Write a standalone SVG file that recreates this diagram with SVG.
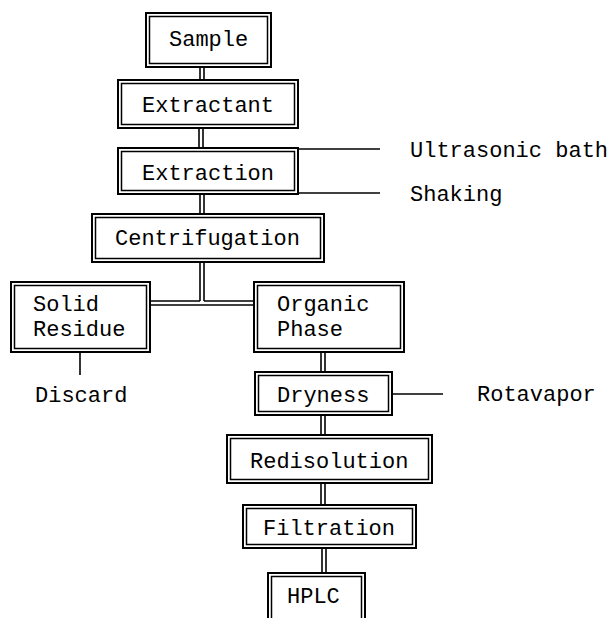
<svg xmlns="http://www.w3.org/2000/svg" width="613" height="618" viewBox="0 0 613 618">
<style>
.o{fill:#fff;stroke:#000;stroke-width:2}
.i{fill:none;stroke:#000;stroke-width:1.5}
.c line{stroke:#000;stroke-width:1.6}
text{font-family:"Liberation Mono","Courier New",monospace;font-size:22px;fill:#000}
</style>
<rect width="613" height="618" fill="#fff"/>
<g class="c" id="connectors">
<line x1="200" y1="67" x2="200" y2="80"/><line x1="204" y1="67" x2="204" y2="80"/>
<line x1="199" y1="128" x2="199" y2="148"/><line x1="203" y1="128" x2="203" y2="148"/>
<line x1="200" y1="194" x2="200" y2="214"/><line x1="204" y1="194" x2="204" y2="214"/>
<line x1="200" y1="262" x2="200" y2="301"/><line x1="204" y1="262" x2="204" y2="301"/>
<line x1="150" y1="301" x2="200" y2="301"/><line x1="204" y1="301" x2="254" y2="301"/>
<line x1="150" y1="305" x2="254" y2="305"/>
<line x1="321" y1="352" x2="321" y2="372"/><line x1="325" y1="352" x2="325" y2="372"/>
<line x1="321" y1="415" x2="321" y2="435"/><line x1="325" y1="415" x2="325" y2="435"/>
<line x1="321" y1="483" x2="321" y2="505"/><line x1="325" y1="483" x2="325" y2="505"/>
<line x1="322" y1="548" x2="322" y2="573"/><line x1="326" y1="548" x2="326" y2="573"/>
<line x1="298" y1="149" x2="380" y2="149"/>
<line x1="298" y1="193" x2="380" y2="193"/>
<line x1="392" y1="394" x2="443" y2="394"/>
<line x1="80" y1="352" x2="80" y2="375"/>
</g>
<g id="sample"><rect class="o" x="146" y="13" width="125" height="54"/><rect class="i" x="149.5" y="16.5" width="118" height="47"/><text x="169" y="46">Sample</text></g>
<g id="extractant"><rect class="o" x="118" y="80" width="180" height="48"/><rect class="i" x="121.5" y="83.5" width="173" height="41"/><text x="142" y="112">Extractant</text></g>
<g id="extraction"><rect class="o" x="118" y="148" width="180" height="46"/><rect class="i" x="121.5" y="151.5" width="173" height="39"/><text x="142" y="180">Extraction</text></g>
<g id="centrifugation"><rect class="o" x="92" y="214" width="232" height="48"/><rect class="i" x="95.5" y="217.5" width="225" height="41"/><text x="115" y="245">Centrifugation</text></g>
<g id="solid-residue"><rect class="o" x="11" y="282" width="139" height="70"/><rect class="i" x="14.5" y="285.5" width="132" height="63"/><text x="33" y="311">Solid</text><text x="33" y="336">Residue</text></g>
<g id="organic-phase"><rect class="o" x="254" y="282" width="150" height="70"/><rect class="i" x="257.5" y="285.5" width="143" height="63"/><text x="277" y="311">Organic</text><text x="277" y="336">Phase</text></g>
<g id="dryness"><rect class="o" x="255" y="372" width="137" height="43"/><rect class="i" x="258.5" y="375.5" width="130" height="36"/><text x="277" y="402">Dryness</text></g>
<g id="redisolution"><rect class="o" x="227" y="435" width="205" height="48"/><rect class="i" x="230.5" y="438.5" width="198" height="41"/><text x="250" y="468">Redisolution</text></g>
<g id="filtration"><rect class="o" x="243" y="505" width="173" height="43"/><rect class="i" x="246.5" y="508.5" width="166" height="36"/><text x="263" y="535">Filtration</text></g>
<g id="hplc"><rect class="o" x="268" y="573" width="97" height="50"/><rect class="i" x="271.5" y="576.5" width="90" height="43"/><text x="287" y="603">HPLC</text></g>
<g id="labels">
<text x="410" y="157">Ultrasonic bath</text>
<text x="410" y="201">Shaking</text>
<text x="35" y="402">Discard</text>
<text x="477" y="401">Rotavapor</text>
</g>
</svg>
